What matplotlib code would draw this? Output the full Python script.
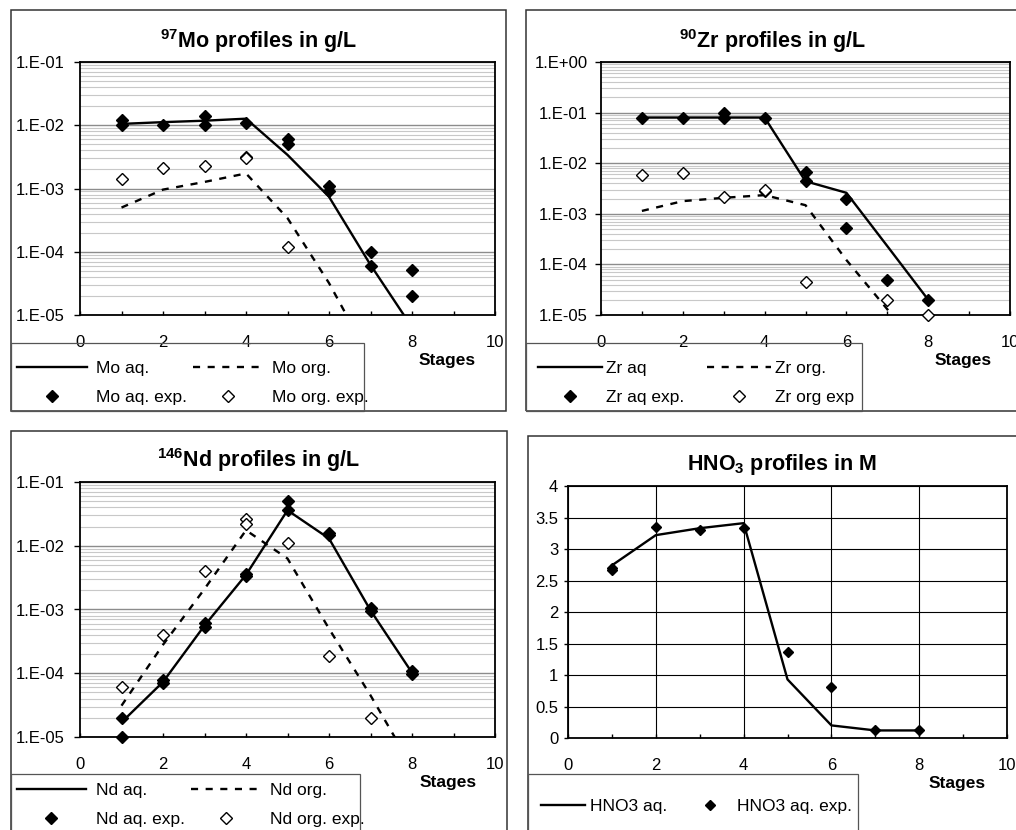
import numpy as np
import matplotlib
matplotlib.use("Agg")
import matplotlib.pyplot as plt
from matplotlib.ticker import LogLocator, NullFormatter, FuncFormatter, MultipleLocator
from matplotlib.patches import Rectangle

plt.rcParams['font.family'] = ['Liberation Sans', 'DejaVu Sans']
plt.rcParams['mathtext.default'] = 'regular'

# ---------------- data ----------------
stages = [1, 2, 3, 4, 5, 6, 7, 8]

mo_aq = [1.05e-2, 1.12e-2, 1.18e-2, 1.27e-2, 3.4e-3, 7.4e-4, 6.2e-5, 6.4e-6]
mo_org = [5.0e-4, 9.6e-4, 1.27e-3, 1.73e-3, 3.4e-4, 3.2e-5, 2.0e-6, 1.0e-7]
mo_aq_exp_x = [1, 1, 2, 3, 3, 4, 5, 5, 6, 6, 7, 7, 8, 8]
mo_aq_exp_y = [1.2e-2, 1.0e-2, 1.0e-2, 1.4e-2, 1.0e-2, 1.1e-2, 6.0e-3, 5.0e-3,
               1.1e-3, 9.0e-4, 1.0e-4, 6.0e-5, 5.2e-5, 2.0e-5]
mo_org_exp_x = [1, 2, 3, 4, 4, 5]
mo_org_exp_y = [1.4e-3, 2.1e-3, 2.3e-3, 3.2e-3, 3.0e-3, 1.2e-4]

zr_aq = [8.0e-2, 8.0e-2, 8.0e-2, 8.0e-2, 4.4e-3, 2.6e-3, 2.3e-4, 2.0e-5]
zr_org = [1.14e-3, 1.78e-3, 2.07e-3, 2.34e-3, 1.48e-3, 1.22e-4, 1.3e-5, 1.0e-6]
zr_aq_exp_x = [1, 2, 3, 3, 4, 5, 5, 6, 6, 7, 8]
zr_aq_exp_y = [8.0e-2, 8.0e-2, 1.0e-1, 7.7e-2, 8.0e-2, 6.7e-3, 4.5e-3,
               1.95e-3, 5.2e-4, 5.0e-5, 2.0e-5]
zr_org_exp_x = [1, 2, 3, 4, 4, 5, 7, 8]
zr_org_exp_y = [5.8e-3, 6.5e-3, 2.15e-3, 2.8e-3, 3.0e-3, 4.5e-5, 2.0e-5, 1.0e-5]

nd_aq = [1.7e-5, 7.3e-5, 5.6e-4, 3.5e-3, 3.6e-2, 1.3e-2, 9.7e-4, 1.02e-4]
nd_org = [3.1e-5, 2.8e-4, 2.1e-3, 1.75e-2, 6.3e-3, 5.0e-4, 4.5e-5, 3.4e-6]
nd_aq_exp_x = [1, 1, 2, 2, 3, 3, 4, 4, 5, 5, 6, 6, 7, 7, 8, 8]
nd_aq_exp_y = [2.0e-5, 1.0e-5, 7.7e-5, 7.0e-5, 6.2e-4, 5.3e-4, 3.6e-3, 3.3e-3,
               5.0e-2, 3.7e-2, 1.6e-2, 1.45e-2, 1.06e-3, 9.6e-4, 1.07e-4, 9.9e-5]
nd_org_exp_x = [1, 2, 3, 4, 4, 5, 6, 7]
nd_org_exp_y = [6.0e-5, 4.0e-4, 4.0e-3, 2.6e-2, 2.2e-2, 1.12e-2, 1.85e-4, 2.0e-5]

hno3_aq = [2.74, 3.22, 3.33, 3.41, 0.93, 0.20, 0.12, 0.12]
hno3_exp_x = [1, 1, 2, 3, 4, 5, 6, 7, 8]
hno3_exp_y = [2.67, 2.70, 3.35, 3.30, 3.34, 1.36, 0.81, 0.13, 0.12]

titles = [r"$^{97}$Mo profiles in g/L", r"$^{90}$Zr profiles in g/L",
          r"$^{146}$Nd profiles in g/L", r"HNO$_3$ profiles in M"]
xlabel = "Stages"

# ---------------- figure ----------------
W, H = 1016, 830
fig = plt.figure(figsize=(W / 100, H / 100), dpi=100)


def fx(px):
    return px / W


def fy(py):
    return 1 - py / H


def add_axes(l, t, r, b):
    return fig.add_axes([fx(l), fy(b), (r - l) / W, (b - t) / H])


def box(l, t, r, b, color, lw):
    fig.patches.append(Rectangle((fx(l), fy(b)), (r - l) / W, (b - t) / H,
                                 transform=fig.transFigure, fill=False,
                                 edgecolor=color, linewidth=lw, zorder=0))


# outer chart boxes
box(11, 10, 506, 411, '#333333', 1.1)
box(526, 10, 1020, 411, '#333333', 1.1)
box(11, 431, 507, 845, '#333333', 1.1)
box(528, 436, 1036, 845, '#333333', 1.1)
# legend boxes
box(11, 343, 364, 411, '#555555', 0.9)
box(526, 343, 862, 411, '#555555', 0.9)
box(11, 774, 360, 845, '#555555', 0.9)
box(528, 774, 858, 845, '#555555', 0.9)

LW = 1.7
LEGFS = 12.5
XPAD = 14.5
DASH = (0, (3.0, 3.2))


def style_x(ax):
    ax.xaxis.set_major_locator(MultipleLocator(2))
    ax.xaxis.set_minor_locator(MultipleLocator(1))
    ax.tick_params(axis='x', which='both', direction='in', length=3, width=1,
                   labelsize=12, pad=XPAD)
    ax.set_axisbelow(True)
    for s in ax.spines.values():
        s.set_linewidth(1.3)
        s.set_color('black')


def style_log(ax, ymin, ymax, ypad):
    ax.set_yscale('log')
    ax.set_ylim(ymin, ymax)
    ax.set_xlim(0, 10)
    ax.yaxis.set_major_locator(LogLocator(base=10, numticks=12))
    ax.yaxis.set_minor_locator(LogLocator(base=10, subs=np.arange(2, 10), numticks=40))
    ax.yaxis.set_minor_formatter(NullFormatter())
    ax.yaxis.set_major_formatter(FuncFormatter(
        lambda v, p: "1.E{:+03d}".format(int(round(np.log10(v))))))
    ax.tick_params(axis='y', which='major', direction='out', length=4, width=1,
                   labelsize=12, pad=ypad)
    ax.tick_params(axis='y', which='minor', length=0)
    ax.grid(axis='y', which='major', color='#8c8c8c', lw=1.0)
    ax.grid(axis='y', which='minor', color='#c8c8c8', lw=0.8)
    style_x(ax)


def legend4(ax, handles, x, y, hl, htp, cs):
    return ax.legend(handles=handles, loc='upper left',
                     bbox_to_anchor=(fx(x), fy(y)), bbox_transform=fig.transFigure,
                     ncol=2, frameon=False, fontsize=LEGFS, handlelength=hl,
                     handletextpad=htp, columnspacing=cs, borderpad=0,
                     borderaxespad=0, labelspacing=0.78)


def log_panel(ax, aq, org, aqx, aqy, orgx, orgy, names):
    l1, = ax.plot(stages, aq, color='black', lw=LW, label=names[0])
    l2, = ax.plot(stages, org, color='black', lw=LW, ls=DASH, label=names[1])
    m1, = ax.plot(aqx, aqy, ls='none', marker='D', ms=6.4, color='black',
                  clip_on=False, zorder=5, label=names[2])
    m2, = ax.plot(orgx, orgy, ls='none', marker='D', ms=5.8, mfc='white',
                  mec='black', mew=1.0, clip_on=False, zorder=5, label=names[3])
    return [l1, m1, l2, m2]


# ---- Mo ----
ax1 = add_axes(80, 62, 495, 315)
style_log(ax1, 1e-5, 1e-1, 7)
h = log_panel(ax1, mo_aq, mo_org, mo_aq_exp_x, mo_aq_exp_y, mo_org_exp_x, mo_org_exp_y,
              ["Mo aq.", "Mo org.", "Mo aq. exp.", "Mo org. exp."])
legend4(ax1, h, 17, 361, 4.03, 0.52, 0.36)

# ---- Zr ----
ax2 = add_axes(601, 62, 1010, 315)
style_log(ax2, 1e-5, 1e0, 5.5)
h = log_panel(ax2, zr_aq, zr_org, zr_aq_exp_x, zr_aq_exp_y, zr_org_exp_x, zr_org_exp_y,
              ["Zr aq", "Zr org.", "Zr aq exp.", "Zr org exp"])
legend4(ax2, h, 538, 361, 3.69, 0.2, 1.35)

# ---- Nd ----
ax3 = add_axes(80, 482, 495, 737)
style_log(ax3, 1e-5, 1e-1, 7)
h = log_panel(ax3, nd_aq, nd_org, nd_aq_exp_x, nd_aq_exp_y, nd_org_exp_x, nd_org_exp_y,
              ["Nd aq.", "Nd org.", "Nd aq. exp.", "Nd org. exp."])
legend4(ax3, h, 17, 783, 3.95, 0.6, 0.36)

# ---- HNO3 ----
ax4 = add_axes(568, 486, 1007, 738)
ax4.set_xlim(0, 10)
ax4.set_ylim(0, 4)
ax4.yaxis.set_major_locator(MultipleLocator(0.5))
ax4.yaxis.set_major_formatter(FuncFormatter(lambda v, p: "{:g}".format(v)))
ax4.tick_params(axis='y', which='major', direction='out', length=3, width=1,
                labelsize=12, pad=4)
style_x(ax4)
ax4.grid(which='major', color='black', lw=0.8)
k1, = ax4.plot(stages, hno3_aq, color='black', lw=LW, label="HNO3 aq.")
k2, = ax4.plot(hno3_exp_x, hno3_exp_y, ls='none', marker='D', ms=5.0, color='black',
               clip_on=False, zorder=5, label="HNO3 aq. exp.")
ax4.legend(handles=[k1, k2], loc='upper left', bbox_to_anchor=(fx(541), fy(799)),
           bbox_transform=fig.transFigure, ncol=2, frameon=False, fontsize=LEGFS,
           handlelength=2.53, handletextpad=0.29, columnspacing=1.2, borderpad=0,
           borderaxespad=0)

# titles and axis labels
for t, (x, y) in zip(titles, [(258, 48), (773, 48), (258, 467), (782, 470)]):
    fig.text(fx(x), fy(y), t, ha='center', va='baseline', fontsize=15.5,
             fontweight='bold')
for (x, y) in [(447, 360), (963, 360), (448, 782), (957, 783)]:
    fig.text(fx(x), fy(y), xlabel, ha='center', va='center', fontsize=12.5,
             fontweight='bold')

fig.savefig("out.png", dpi=100)
